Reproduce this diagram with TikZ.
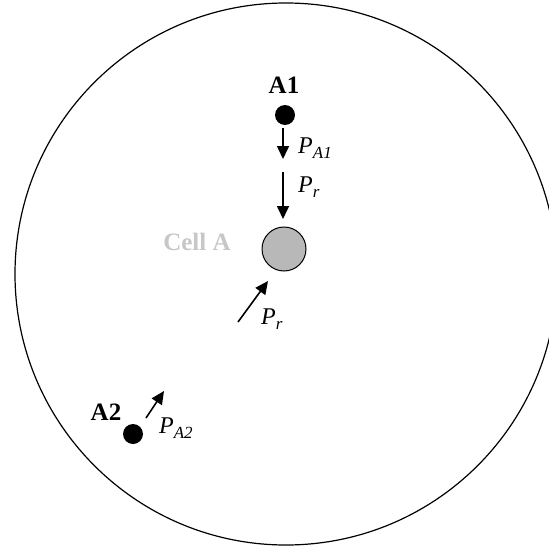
\documentclass[tikz,border=0pt]{standalone}
\usepackage{fontspec}
\setmainfont{Liberation Serif}
\usetikzlibrary{arrows.meta}
\tikzset{
  lbl/.style={font=\fontsize{25}{28}\selectfont\bfseries, inner sep=0pt},
  plbl/.style={font=\fontsize{24}{28}\selectfont, inner sep=0pt, anchor=west},
  dot/.style={circle, fill=black, minimum size=20pt, inner sep=0pt},
  flow/.style={line width=1.6pt, -{Triangle[length=13pt,width=12pt]}}
}
\newcommand{\psub}[1]{\textit{P}\raisebox{-5pt}{\fontsize{17}{18}\selectfont\textit{#1}}}
\begin{document}
\begin{tikzpicture}[x=1pt,y=-1pt]
\useasboundingbox (0,0) rectangle (549,546);
\draw[line width=1.2pt] (286,274) circle (271);
\node[circle, draw=black, fill=black!28, line width=1pt, minimum size=44pt, inner sep=0pt] (cell) at (284,249) {};
\node[lbl, text=black!22] (cellA) at (197,242) {Cell A};
\node[dot] (a1) at (285,115) {};
\node[lbl] (a1l) at (284,85) {A1};
\node[dot] (a2) at (133,434) {};
\node[lbl] (a2l) at (106,412) {A2};
\coordinate (s1) at (283,128);
\coordinate (e1) at (283,159);
\draw[flow] (s1) -- (e1);
\node[plbl] (pa1) at (298,148) {\psub{A1}};
\coordinate (s2) at (283,172);
\coordinate (e2) at (283,219);
\draw[flow] (s2) -- (e2);
\node[plbl] (pr1) at (298,187) {\psub{r}};
\coordinate (s3) at (238,322);
\coordinate (e3) at (268,281);
\draw[flow] (s3) -- (e3);
\node[plbl] (pr2) at (261,319) {\psub{r}};
\coordinate (s4) at (146,418);
\coordinate (e4) at (164,391);
\draw[flow] (s4) -- (e4);
\node[plbl] (pa2) at (159,428) {\psub{A2}};
\end{tikzpicture}
\end{document}
